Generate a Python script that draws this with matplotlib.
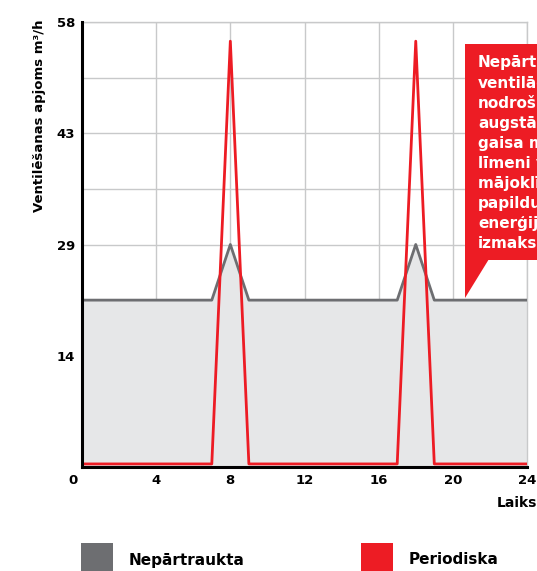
import matplotlib
matplotlib.use("Agg")
import matplotlib.pyplot as plt
import matplotlib.transforms as mtransforms
from matplotlib.patches import Rectangle, Polygon

# data
hours = [0, 7, 8, 9, 17, 18, 19, 24]
continuous = [21.75, 21.75, 29, 21.75, 21.75, 29, 21.75, 21.75]
periodic = [0.4, 0.4, 55.5, 0.4, 0.4, 55.5, 0.4, 0.4]
x_ticks = [0, 4, 8, 12, 16, 20, 24]
y_grid = [0, 7.25, 14.5, 21.75, 29, 36.25, 43.5, 50.75, 58]
y_labels = ["", "", "14", "", "29", "", "43", "", "58"]
callout_lines = ["Nepārtraukta", "ventilācija", "nodrošina", "augstāku",
                 "gaisa maiņas", "līmeni visā", "mājoklī bez", "papildu",
                 "enerģijas", "izmaksām"]
series_names = ["Nepārtraukta", "Periodiska"]

RED = "#ed1c24"
GREY = "#6d6e71"
FILL = "#e6e7e8"
GRID = "#c8c9ca"
W, H = 537, 571

plt.rcParams["font.family"] = ["DejaVu Sans"]
plt.rcParams["font.weight"] = "bold"

fig = plt.figure(figsize=(W / 100, H / 100), dpi=100)
ax = fig.add_axes([82 / W, 1 - 467 / H, (527 - 82) / W, (467 - 22) / H])

ax.fill_between(hours, continuous, 0, color=FILL, zorder=2, lw=0)
ax.plot(hours, continuous, color=GREY, lw=2, zorder=3, solid_joinstyle="round")
ax.plot(hours, periodic, color=RED, lw=2, zorder=4, solid_joinstyle="round")

ax.set_xlim(0, 24)
ax.set_ylim(0, 58)
ax.set_xticks(x_ticks)
ax.set_xticklabels([str(v) for v in x_ticks], fontsize=9.5, fontweight="bold")
ax.set_yticks(y_grid)
ax.set_yticklabels(y_labels, fontsize=9.5, fontweight="bold")
ax.tick_params(length=0, pad=5)
ax.grid(True, color=GRID, lw=1)
ax.set_axisbelow(True)

# nudge the "0" label left like the original
off = mtransforms.ScaledTranslation(-9 / 100, 0, fig.dpi_scale_trans)
lab0 = ax.get_xticklabels()[0]
lab0.set_transform(lab0.get_transform() + off)

for s in ["left", "bottom"]:
    ax.spines[s].set_color("black")
    ax.spines[s].set_linewidth(2.2)
    ax.spines[s].set_zorder(5)
for s in ["top", "right"]:
    ax.spines[s].set_color(GRID)
    ax.spines[s].set_linewidth(1)

fig.text(40 / W, 1 - 116 / H, "Ventilēšanas apjoms m³/h", rotation=90,
         ha="center", va="center", fontsize=9.5, fontweight="bold")
fig.text(1.0, 1 - 503 / H, "Laiks", ha="right", va="center",
         fontsize=10, fontweight="bold")

# callout box (runs off the right edge, as in the original)
fig.patches.append(Rectangle((465 / W, 1 - 260 / H), 80 / W, (260 - 44) / H,
                             transform=fig.transFigure, color=RED, lw=0))
fig.patches.append(Polygon([(465 / W, 1 - 259 / H), (489 / W, 1 - 259 / H),
                            (465 / W, 1 - 298 / H)],
                           transform=fig.transFigure, color=RED, lw=0))
for i, line in enumerate(callout_lines):
    fig.text(478 / W, 1 - (67.5 + 20.1 * i) / H, line, color="white",
             ha="left", va="baseline", fontsize=11, fontweight="bold")

# legend
colors = [GREY, RED]
xs = [81, 361]
for name, c, x0 in zip(series_names, colors, xs):
    fig.patches.append(Rectangle((x0 / W, 0), 32 / W, (571 - 543) / H,
                                 transform=fig.transFigure, color=c, lw=0))
    fig.text((x0 + 48) / W, 1 - 560 / H, name, ha="left", va="center",
             fontsize=11, fontweight="bold")

fig.savefig("out.png", dpi=100)
